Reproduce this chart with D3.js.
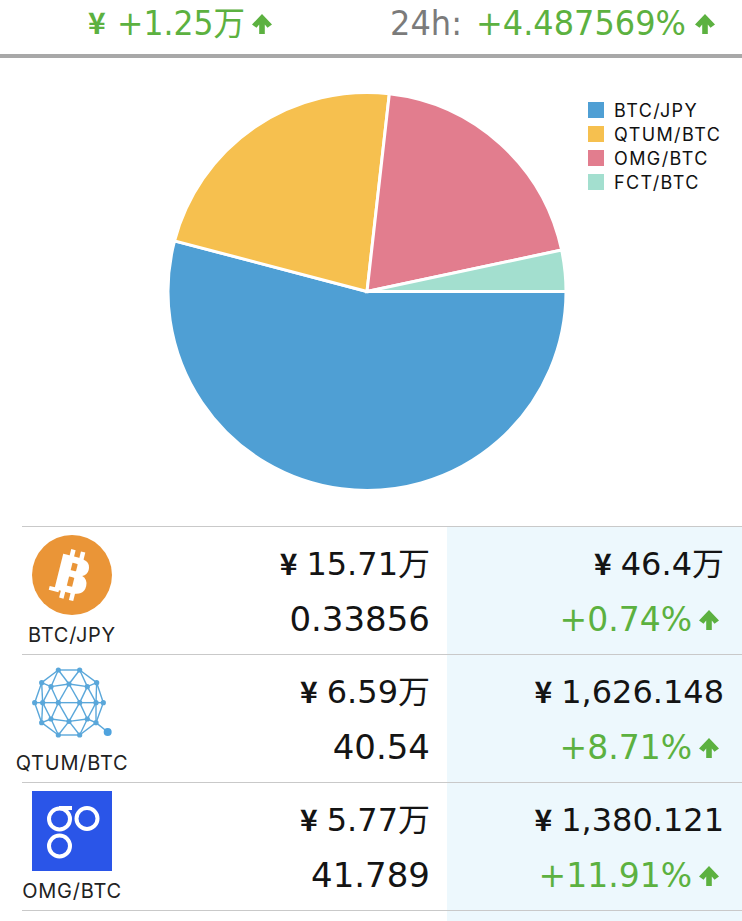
<!DOCTYPE html>
<html><head><meta charset="utf-8">
<script src="https://cdn.jsdelivr.net/npm/d3@7"></script>
<style>html,body{margin:0;padding:0;background:#fff}svg{display:block}</style>
</head><body><svg id="c" width="742" height="921"></svg>
<script>
const pairs = ["BTC/JPY","QTUM/BTC","OMG/BTC","FCT/BTC"];
const shares = [15.71,6.59,5.77,0.97];
const colors = ["#4f9fd4","#f6c04f","#e27d8e","#a3dfcf"];
const yenValues = ["15.71万","6.59万","5.77万"];
const holdings = ["0.33856","40.54","41.789"];
const prices = ["46.4万","1,626.148","1,380.121"];
const changes = ["+0.74%","+8.71%","+11.91%"];
const headerGain = "+1.25万";
const headerPct = "+4.487569%";

const GREEN="#5cb140", INK="#141414", CJK="'DejaVu Sans','Noto Sans CJK JP',sans-serif", UI="Inter,'Liberation Sans',sans-serif";
const svg=d3.select("#c");

function arrow(g,x,y,s,c){ // x = left edge, y = vertical centre
  g.append("path").attr("fill",c).attr("transform",`translate(${x},${y}) scale(${s})`)
   .attr("d","M0,0.5 L10,-10 L20,0.5 L15.5,3.8 L12.8,0.5 L12.8,10 L7.2,10 L7.2,0.5 L4.5,3.8 Z");
}
const hdr=svg.append("g");
function txt(g,x,y,t,o){
  const e=g.append("text").attr("x",x).attr("y",y).attr("text-anchor",o.a||"end")
   .attr("font-family",o.f||CJK).attr("font-size",o.s).attr("fill",o.c||INK).text(t);
  if(o.w)e.attr("font-weight",o.w);
  if(o.ls)e.attr("letter-spacing",o.ls);
  if(o.tl)e.attr("textLength",o.tl).attr("lengthAdjust","spacingAndGlyphs");
  return e;
}
txt(hdr,88,34,"¥",{a:"start",s:30,c:GREEN,f:"'Noto Sans CJK JP'",w:"700"});
txt(hdr,117,35,headerGain,{a:"start",s:33,c:GREEN,tl:128});
arrow(hdr,252,24,1.0,GREEN);
txt(hdr,390,35,"24h:",{a:"start",s:33,c:"#7b7b7b",tl:72});
txt(hdr,476,35,headerPct,{a:"start",s:33,c:GREEN,tl:210});
arrow(hdr,695,24,1.0,GREEN);
svg.append("rect").attr("x",0).attr("y",54).attr("width",742).attr("height",4).attr("fill","#a8a8a8");

const pie=d3.pie().sort(null).startAngle(Math.PI/2).endAngle(Math.PI/2+2*Math.PI);
const arc=d3.arc().innerRadius(0).outerRadius(199);
svg.append("g").attr("transform","translate(367,291.5)").selectAll("path")
 .data(pie(shares)).join("path").attr("d",arc)
 .attr("fill",(d,i)=>colors[i]).attr("stroke","#fff").attr("stroke-width",3);

const legendY=d3.scalePoint().domain(pairs).range([110,182]);
const lg=svg.append("g").selectAll("g").data(pairs).join("g").attr("transform",d=>`translate(588,${legendY(d)})`);
lg.append("rect").attr("x",0).attr("y",-8).attr("width",16).attr("height",16).attr("fill",(d,i)=>colors[i]);
lg.append("text").attr("x",26).attr("y",7).attr("font-family",UI).attr("font-size",18).attr("letter-spacing",1.4).attr("fill","#111").text(d=>d);

svg.append("rect").attr("x",447).attr("y",527).attr("width",295).attr("height",394).attr("fill","#edf8fd");
const rowTop=i=>526+128*i;
d3.range(4).forEach(i=>svg.append("rect").attr("x",22).attr("y",rowTop(i)).attr("width",720).attr("height",1).attr("fill","#c9c9c9"));

yenValues.forEach((v,i)=>{
  const g=svg.append("g").attr("transform",`translate(0,${rowTop(i)})`);
  txt(g,72,116,pairs[i],{a:"middle",s:20,f:UI,c:"#222",ls:0.75});
  const a=txt(g,430,49,v,{s:32});
  const wa=a.node().getComputedTextLength();
  txt(g,430-wa-9,49,"¥",{s:30,w:"700",f:"'Noto Sans CJK JP'"});
  txt(g,430,105,holdings[i],{s:34});
  const b=txt(g,724,49,prices[i],{s:32});
  const wb=b.node().getComputedTextLength();
  txt(g,724-wb-9,49,"¥",{s:30,w:"700",f:"'Noto Sans CJK JP'"});
  txt(g,692,105,changes[i],{s:33,c:GREEN});
  arrow(g,699,94,1.0,GREEN);
});

const ic=svg.append("g");
ic.append("circle").attr("cx",72).attr("cy",575).attr("r",40).attr("fill","#ea9537");
const bt=ic.append("g").attr("transform","translate(72,575) rotate(14)");
bt.append("text").attr("x",1).attr("y",18).attr("text-anchor","middle").attr("font-family","'DejaVu Sans'").attr("font-weight","bold").attr("font-size",50).attr("fill","#fff").text("B");
[-7,3].forEach(x=>{bt.append("rect").attr("x",x).attr("y",-25).attr("width",4.5).attr("height",50).attr("fill","#fff");});
bt.append("rect").attr("x",-19).attr("y",16).attr("width",10).attr("height",4).attr("fill","#fff");

const q=ic.append("g");
const qn=[[175,450],[239,450],[290,488],[310,548],[288,608],[239,645],[175,645],[125,608],[104,548],[125,488],
 [153,500],[207,492],[262,500],[288,548],[262,597],[207,604],[153,597],[128,548],[175,548],[239,548]];
const qe=[[0,1],[1,2],[2,3],[3,4],[4,5],[5,6],[6,7],[7,8],[8,9],[9,0],
 [10,11],[11,12],[12,13],[13,14],[14,15],[15,16],[16,17],[17,10],[17,18],[18,19],[19,13],
 [0,10],[0,11],[1,11],[1,12],[2,12],[2,13],[3,13],[4,13],[4,14],[5,14],[5,15],[6,15],[6,16],[7,16],[7,17],[8,17],[9,17],[9,10],
 [10,18],[11,18],[11,19],[12,19],[14,19],[15,19],[15,18],[16,18]];
const qx=v=>v/3, qy=v=>v/3+520;
q.selectAll("line").data(qe).join("line").attr("x1",d=>qx(qn[d[0]][0])).attr("y1",d=>qy(qn[d[0]][1])).attr("x2",d=>qx(qn[d[1]][0])).attr("y2",d=>qy(qn[d[1]][1])).attr("stroke","#5aa7da").attr("stroke-width",1.4);
q.selectAll("circle").data(qn).join("circle").attr("cx",d=>qx(d[0])).attr("cy",d=>qy(d[1])).attr("r",2.6).attr("fill","#5aa7da");
q.append("line").attr("x1",qx(288)).attr("y1",qy(608)).attr("x2",qx(323)).attr("y2",qy(636)).attr("stroke","#5aa7da").attr("stroke-width",1.4);
q.append("circle").attr("cx",qx(323)).attr("cy",qy(636)).attr("r",4).attr("fill","#4fa3de");

ic.append("rect").attr("x",32).attr("y",791).attr("width",80).attr("height",80).attr("fill","#2a55e8");
[[59.5,819],[87,818.5],[59.5,846]].forEach(c=>ic.append("circle").attr("cx",c[0]).attr("cy",c[1]).attr("r",10.5).attr("fill","none").attr("stroke","#fff").attr("stroke-width",4));
ic.append("rect").attr("x",59).attr("y",806).attr("width",13).attr("height",4).attr("fill","#fff");
</script></body></html>
